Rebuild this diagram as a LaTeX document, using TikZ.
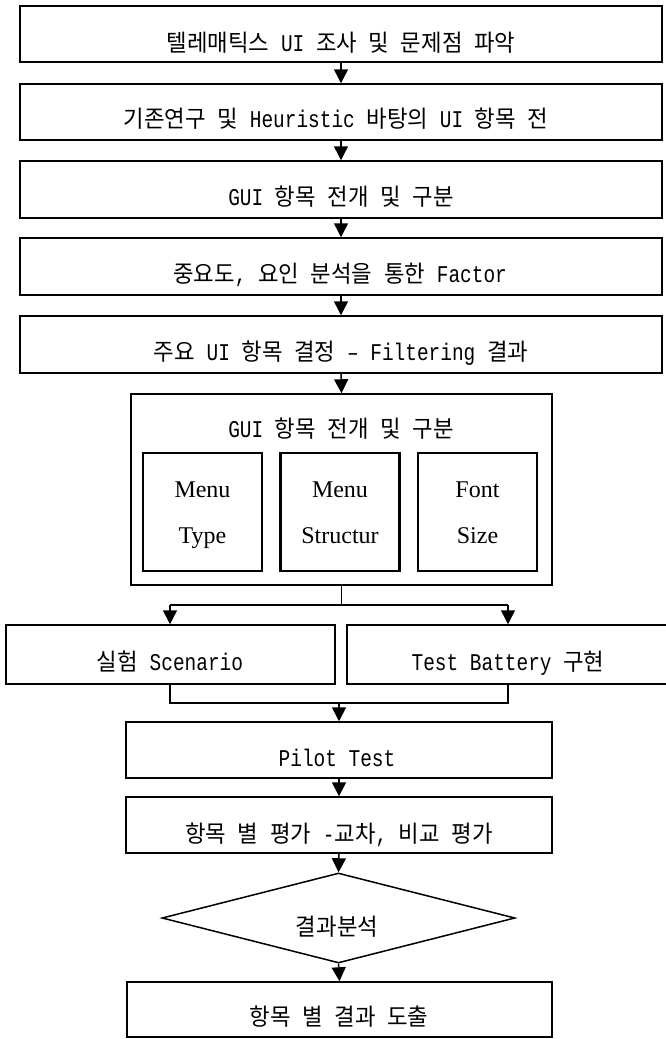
\documentclass[tikz,border=0pt]{standalone}
\usepackage{fontspec}
\setmainfont{Liberation Mono}[FakeStretch=0.81]
\newfontfamily\kofont{Noto Sans CJK KR}[FakeStretch=0.95]
\newfontfamily\serfont{Liberation Serif}
\usetikzlibrary{arrows.meta,shapes.geometric}
\newcommand\kr[1]{{\kofont\fontsize{23.5}{27}\selectfont #1}}
\begin{document}
\begin{tikzpicture}[x=1pt,y=-1pt,
  box/.style={draw, line width=1.5pt, inner sep=0pt},
  inbox/.style={draw, line width=2.2pt, inner sep=0pt, minimum width=119pt, minimum height=118pt},
  lbl/.style={anchor=base, inner sep=0pt, font=\fontsize{24}{28}\selectfont},
  slbl/.style={anchor=base, inner sep=0pt, font=\serfont\fontsize{24}{28}\selectfont},
  arr/.style={-{Triangle[length=14pt,width=14pt]}, line width=1.5pt},
  ln/.style={line width=1.5pt}]
\useasboundingbox (0,0) rectangle (666,1039);
% top boxes
\node[box, minimum width=642pt, minimum height=56pt] (b1) at (341,34) {};
\node[box, minimum width=642pt, minimum height=56pt] (b2) at (341,112) {};
\node[box, minimum width=642pt, minimum height=57pt] (b3) at (341,189.5) {};
\node[box, minimum width=642pt, minimum height=57pt] (b4) at (341,266.5) {};
\node[box, minimum width=642pt, minimum height=57pt] (b5) at (341,344.5) {};
\node[lbl] (t1) at (341,51) {\kr{텔레매틱스} UI \kr{조사} \kr{및} \kr{문제점} \kr{파악}};
\node[lbl] (t2) at (336,127) {\kr{기존연구} \kr{및} Heuristic \kr{바탕의} UI \kr{항목} \kr{전}};
\node[lbl] (t3) at (341,205) {GUI \kr{항목} \kr{전개} \kr{및} \kr{구분}};
\node[lbl] (t4) at (340,282) {\kr{중요도}, \kr{요인} \kr{분석을} \kr{통한} Factor};
\node[lbl] (t5) at (341,360) {\kr{주요} UI \kr{항목} \kr{결정} – Filtering \kr{결과}};
% group box
\node[box, minimum width=421pt, minimum height=191pt] (gb) at (341.5,489.5) {};
\node[lbl] (gt) at (341,437) {GUI \kr{항목} \kr{전개} \kr{및} \kr{구분}};
\node[inbox] (i1) at (202.5,512) {};
\node[inbox] (i2) at (340,512) {};
\node[inbox] (i3) at (477.5,512) {};
\node[slbl] (m1) at (202.5,497) {Menu};
\node[slbl] (m2) at (202.5,543) {Type};
\node[slbl] (m3) at (340,497) {Menu};
\node[slbl] (m4) at (340,543) {Structur};
\node[slbl] (m5) at (477.5,497) {Font};
\node[slbl] (m6) at (477.5,543) {Size};
% split boxes
\node[box, minimum width=329pt, minimum height=59pt] (sc) at (170.5,654.5) {};
\node[box, minimum width=322pt, minimum height=59pt] (tb) at (508,654.5) {};
\node[lbl] (sct) at (170,670) {\kr{실험} Scenario};
\node[lbl] (tbt) at (508,670) {Test Battery \kr{구현}};
% lower chain
\node[box, minimum width=426pt, minimum height=56pt] (pt) at (339,750) {};
\node[lbl] (ptt) at (337,766) {Pilot Test};
\node[box, minimum width=426pt, minimum height=56pt] (ev) at (339,825) {};
\node[lbl] (evt) at (339,842) {\kr{항목} \kr{별} \kr{평가} -\kr{교차}, \kr{비교} \kr{평가}};
\node[diamond, draw, line width=1.5pt, inner sep=0pt, minimum width=353pt, minimum height=90pt, aspect=3.9] (dm) at (338.5,918) {};
\node[lbl] (dmt) at (337,935) {\kr{결과분석}};
\node[box, minimum width=425pt, minimum height=55pt] (rs) at (339.5,1009.5) {};
\node[lbl] (rst) at (339,1025) {\kr{항목} \kr{별} \kr{결과} \kr{도출}};
% connectors
\draw[arr] (b1.south) -- (b2.north);
\draw[arr] (b2.south) -- (b3.north);
\draw[arr] (b3.south) -- (b4.north);
\draw[arr] (b4.south) -- (b5.north);
\draw[arr] (b5.south) -- (gb.north);
\coordinate (jl) at (170,605);
\coordinate (jr) at (508,605);
\draw[ln] (gb.south) -- (gb.south |- jl);
\draw[ln] (jl) -- (jr);
\draw[arr] (jl) -- (jl |- sc.north);
\draw[arr] (jr) -- (jr |- tb.north);
\coordinate (kl) at (170,703);
\coordinate (kr) at (508,703);
\draw[ln] (kl |- sc.south) -- (kl) -- (kr) -- (kr |- tb.south);
\draw[arr] (pt.north |- kl) -- (pt.north);
\draw[arr] (pt.south) -- (ev.north);
\draw[arr] (ev.south) -- (dm.north);
\draw[arr] (dm.south) -- (rs.north);
\end{tikzpicture}
\end{document}
